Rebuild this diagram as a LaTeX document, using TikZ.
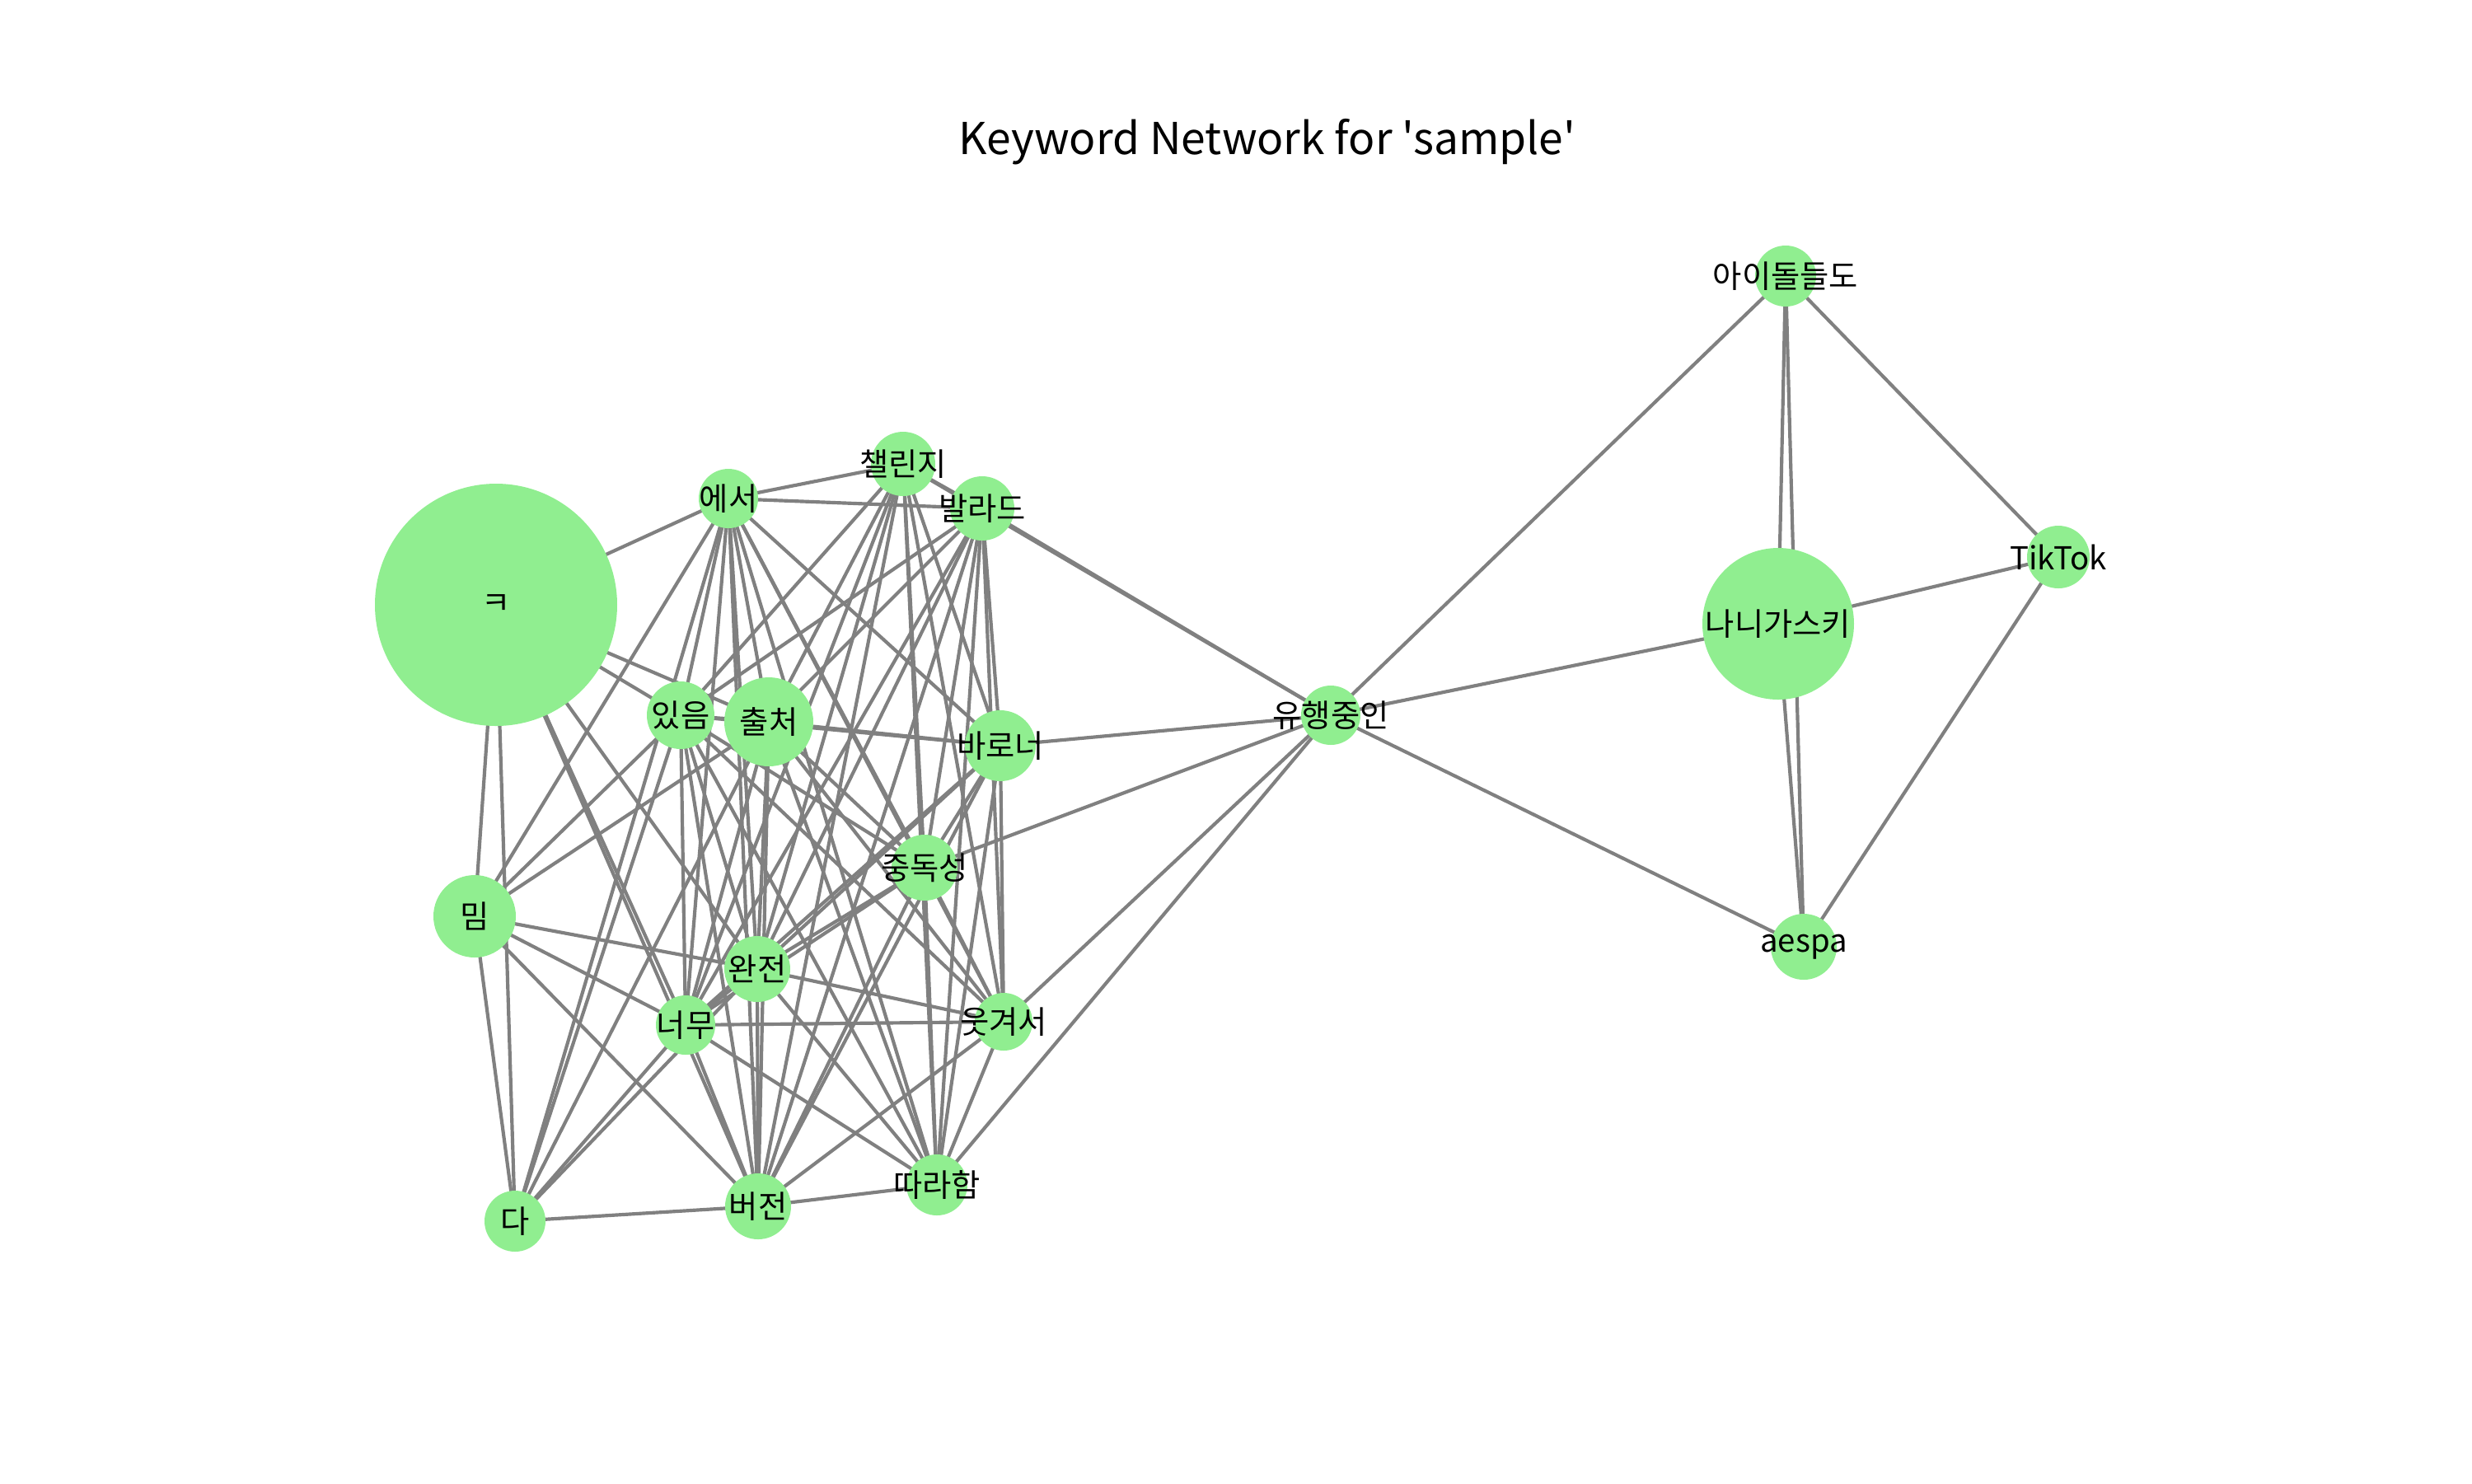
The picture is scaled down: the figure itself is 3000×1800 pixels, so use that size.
\documentclass[tikz,border=0pt]{standalone}
\usepackage{fontspec}
\newfontfamily\kfont{Noto Sans CJK KR}[Ligatures=TeXOff]
\definecolor{nodegreen}{HTML}{90EE90}
\definecolor{edgegray}{HTML}{808080}
\pgfdeclarelayer{edgelayer}
\pgfsetlayers{edgelayer,main}
\tikzset{
  kw/.style={circle, fill=nodegreen, draw=none, inner sep=0pt, minimum size=#1},
  lbl/.style={inner sep=0pt, text=black, font=\kfont\fontsize{9.2}{11}\selectfont},
  link/.style={draw=edgegray, line width=1pt},
  ttl/.style={inner sep=0pt, text=black, font=\kfont\fontsize{12.8}{15}\selectfont}
}
\begin{document}
\begin{tikzpicture}[x=0.24pt,y=-0.24pt]
\useasboundingbox (0,0) rectangle (3000,1800);
\node[ttl] (title) at (1538,172) {Keyword Network for 'sample'};
% nodes
\node[kw=70.56pt] (A) at (602,734) {};
\node[kw=17.28pt] (B) at (884,605) {};
\node[kw=18.72pt] (C) at (1096,563) {};
\node[kw=18.72pt] (D) at (1192,617) {};
\node[kw=19.68pt] (E) at (826,868) {};
\node[kw=25.92pt] (F) at (933,876) {};
\node[kw=20.64pt] (G) at (1214,905) {};
\node[kw=17.28pt] (H) at (1615,868) {};
\node[kw=19.2pt] (I) at (1122,1053) {};
\node[kw=24pt] (J) at (576,1112) {};
\node[kw=19.2pt] (K) at (919,1176) {};
\node[kw=17.28pt] (L) at (832,1244) {};
\node[kw=16.8pt] (M) at (1218,1240) {};
\node[kw=17.76pt] (N) at (625,1482) {};
\node[kw=19.2pt] (O) at (920,1464) {};
\node[kw=17.76pt] (P) at (1137,1438) {};
\node[kw=17.76pt] (Q) at (2167,335) {};
\node[kw=44.16pt] (R) at (2158,757) {};
\node[kw=18.24pt] (S) at (2498,676) {};
\node[kw=19.2pt] (T) at (2189,1149) {};
% labels
\node[lbl] (At) at (A) {ㅋ};
\node[lbl] (Bt) at (B) {에서};
\node[lbl] (Ct) at (C) {챌린지};
\node[lbl] (Dt) at (D) {발라드};
\node[lbl] (Et) at (E) {있음};
\node[lbl] (Ft) at (F) {출처};
\node[lbl] (Gt) at (G) {바로너};
\node[lbl] (Ht) at (H) {유행중인};
\node[lbl] (It) at (I) {중독성};
\node[lbl] (Jt) at (J) {밈};
\node[lbl] (Kt) at (K) {완전};
\node[lbl] (Lt) at (L) {너무};
\node[lbl] (Mt) at (M) {웃겨서};
\node[lbl] (Nt) at (N) {다};
\node[lbl] (Ot) at (O) {버전};
\node[lbl] (Pt) at (P) {따라함};
\node[lbl] (Qt) at (Q) {아이돌들도};
\node[lbl] (Rt) at (R) {나니가스키};
\node[lbl] (St) at (S) {TikTok};
\node[lbl] (Tt) at (T) {aespa};
% edges
\begin{pgfonlayer}{edgelayer}
\foreach \u/\v in {A/B,A/E,A/F,A/J,A/K,A/L,A/N,A/O,
  B/E,B/F,B/J,B/K,B/L,B/N,B/O,
  E/F,E/J,E/K,E/L,E/N,E/O,
  F/J,F/K,F/L,F/N,F/O,
  J/K,J/L,J/N,J/O,
  K/L,K/N,K/O,L/N,L/O,N/O,
  B/C,B/D,B/G,B/I,B/M,B/P,
  C/D,C/E,C/F,C/G,C/I,C/K,C/L,C/M,C/O,C/P,
  D/E,D/F,D/G,D/I,D/K,D/L,D/M,D/O,D/P,
  E/G,E/I,E/M,E/P,
  F/G,F/I,F/M,F/P,
  G/I,G/K,G/L,G/M,G/O,G/P,
  I/K,I/L,I/M,I/O,I/P,
  K/M,K/P,L/M,L/P,M/O,M/P,O/P,
  H/C,H/D,H/G,H/I,H/M,H/P,H/Q,H/R,H/T,
  Q/R,Q/S,Q/T,R/S,R/T,S/T}
  \draw[link] (\u.center) -- (\v.center);
\end{pgfonlayer}
\end{tikzpicture}
\end{document}
